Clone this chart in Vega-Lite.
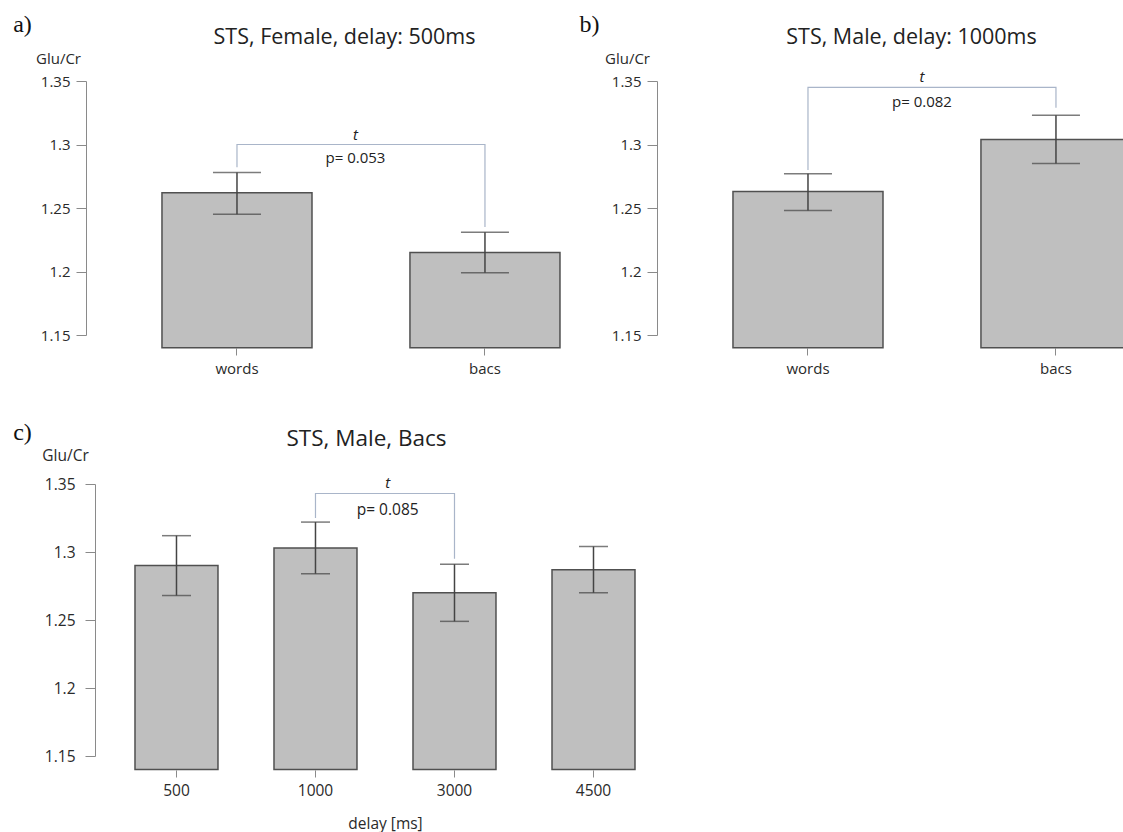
{
  "$schema": "https://vega.github.io/schema/vega-lite/v6.json",
  "background": "white",
  "padding": {"left": 12, "top": 12, "right": 0, "bottom": 6},
  "config": {"view": {"stroke": null}, "font": "Open Sans", "axis": {"grid": false}},
  "datasets": {
    "a_bars": [
      {"cond": "words", "mean": 1.262, "lo": 1.245, "hi": 1.278},
      {"cond": "bacs", "mean": 1.215, "lo": 1.199, "hi": 1.231}
    ],
    "a_bracket": [
      {"cond": "words", "y": 1.282, "ord": 1},
      {"cond": "words", "y": 1.300, "ord": 2},
      {"cond": "bacs", "y": 1.300, "ord": 3},
      {"cond": "bacs", "y": 1.235, "ord": 4}
    ],
    "a_text": [{"cond": "words", "test": "t", "t_y": 1.3075, "p_y": 1.2894, "p": "p= 0.053"}],
    "b_bars": [
      {"cond": "words", "mean": 1.263, "lo": 1.248, "hi": 1.277},
      {"cond": "bacs", "mean": 1.304, "lo": 1.285, "hi": 1.323}
    ],
    "b_bracket": [
      {"cond": "words", "y": 1.280, "ord": 1},
      {"cond": "words", "y": 1.345, "ord": 2},
      {"cond": "bacs", "y": 1.345, "ord": 3},
      {"cond": "bacs", "y": 1.329, "ord": 4}
    ],
    "b_text": [{"cond": "words", "test": "t", "t_y": 1.3531, "p_y": 1.3335, "p": "p= 0.082"}],
    "c_bars": [
      {"delay": "500", "mean": 1.290, "lo": 1.268, "hi": 1.312},
      {"delay": "1000", "mean": 1.303, "lo": 1.284, "hi": 1.322},
      {"delay": "3000", "mean": 1.270, "lo": 1.249, "hi": 1.291},
      {"delay": "4500", "mean": 1.287, "lo": 1.270, "hi": 1.304}
    ],
    "c_bracket": [
      {"delay": "1000", "y": 1.325, "ord": 1},
      {"delay": "1000", "y": 1.343, "ord": 2},
      {"delay": "3000", "y": 1.343, "ord": 3},
      {"delay": "3000", "y": 1.295, "ord": 4}
    ],
    "c_text": [{"delay": "1000", "test": "t", "t_y": 1.3507, "p_y": 1.3309, "p": "p= 0.085"}]
  },
  "vconcat": [
    {
      "hconcat": [
        {
          "width": 479, "height": 254,
          "encoding": {
            "x": {"field": "cond", "type": "nominal", "sort": ["words", "bacs"],
              "scale": {"paddingInner": 0.395, "paddingOuter": 0.1633, "align": 0.938},
              "axis": {"title": null, "labelAngle": 0, "domain": false, "offset": 13, "tickSize": 7, "tickColor": "#8a8a8a", "labelPadding": 6, "labelFont": "Open Sans", "labelFontSize": 15, "labelColor": "#2a2a2a"}}
          },
          "layer": [
            {"data": {"name": "a_bars"}, "mark": {"type": "bar", "fill": "#bfbfbf", "stroke": "#505050", "strokeWidth": 1.5},
              "encoding": {
                "y": {"field": "mean", "type": "quantitative", "scale": {"domain": [1.15, 1.35], "nice": false, "zero": false},
                  "axis": {"title": "Glu/Cr", "titleAngle": 0, "titleX": -28, "titleY": -23, "titleAlign": "center", "titleBaseline": "middle", "titleFont": "Open Sans", "titleFontSize": 15, "titleFontWeight": "normal", "titleColor": "#2a2a2a", "values": [1.15, 1.2, 1.25, 1.3, 1.35], "format": ".2~f", "labelFont": "Open Sans", "labelFontSize": 15, "labelColor": "#2a2a2a", "labelPadding": 6, "tickSize": 10, "tickColor": "#8a8a8a", "domainColor": "#8a8a8a", "grid": false}},
                "y2": {"datum": 1.14}
              }},
            {"data": {"name": "a_bars"}, "mark": {"type": "rule", "color": "#444444", "strokeWidth": 1.5},
              "encoding": {
                "y": {"field": "lo", "type": "quantitative", "axis": {"orient": "left", "title": "a)", "titleAngle": 0, "titleX": -64, "titleY": -57, "titleAlign": "center", "titleBaseline": "middle", "titleFont": "Liberation Serif", "titleFontSize": 24, "titleFontWeight": "normal", "titleColor": "#111111", "labels": false, "ticks": false, "domain": false, "grid": false}},
                "y2": {"field": "hi"}
              }},
            {"data": {"name": "a_bars"}, "mark": {"type": "tick", "color": "#444444", "size": 48, "thickness": 1.5},
              "encoding": {"y": {"field": "lo", "type": "quantitative", "axis": null}}},
            {"data": {"name": "a_bars"}, "mark": {"type": "tick", "color": "#444444", "size": 48, "thickness": 1.5},
              "encoding": {"y": {"field": "hi", "type": "quantitative", "axis": null}}},
            {"data": {"name": "a_bracket"}, "mark": {"type": "line", "color": "#a9b5c9", "strokeWidth": 1.2},
              "encoding": {"y": {"field": "y", "type": "quantitative",
                  "axis": {"orient": "left", "title": "STS, Female, delay: 500ms", "titleAngle": 0, "titleX": 258, "titleY": -44, "titleAlign": "center", "titleBaseline": "middle", "titleFont": "Open Sans", "titleFontSize": 21.5, "titleFontWeight": "normal", "titleColor": "#222222", "labels": false, "ticks": false, "domain": false, "grid": false}},
                "order": {"field": "ord", "type": "quantitative"}}},
            {"data": {"name": "a_text"}, "mark": {"type": "text", "fontStyle": "italic", "fontSize": 15, "color": "#222222", "baseline": "middle"},
              "encoding": {"x": {"field": "cond", "type": "nominal", "sort": ["words", "bacs"], "bandPosition": 1.29,
                  "axis": {"title": null, "labelAngle": 0, "domain": false, "offset": 13, "tickSize": 7, "tickColor": "#8a8a8a", "labelPadding": 6, "labelFont": "Open Sans", "labelFontSize": 15, "labelColor": "#2a2a2a"}},
                "y": {"field": "t_y", "type": "quantitative", "axis": null}, "text": {"field": "test"}}},
            {"data": {"name": "a_text"}, "mark": {"type": "text", "fontSize": 15, "color": "#222222", "baseline": "middle"},
              "encoding": {"x": {"field": "cond", "type": "nominal", "sort": ["words", "bacs"], "bandPosition": 1.29,
                  "axis": {"title": null, "labelAngle": 0, "domain": false, "offset": 13, "tickSize": 7, "tickColor": "#8a8a8a", "labelPadding": 6, "labelFont": "Open Sans", "labelFontSize": 15, "labelColor": "#2a2a2a"}},
                "y": {"field": "p_y", "type": "quantitative", "axis": null}, "text": {"field": "p"}}}
          ],
          "resolve": {"axis": {"y": "independent"}}
        },
        {
          "width": 479, "height": 254,
          "encoding": {
            "x": {"field": "cond", "type": "nominal", "sort": ["words", "bacs"],
              "scale": {"paddingInner": 0.395, "paddingOuter": 0.1633, "align": 0.938},
              "axis": {"title": null, "labelAngle": 0, "domain": false, "offset": 13, "tickSize": 7, "tickColor": "#8a8a8a", "labelPadding": 6, "labelFont": "Open Sans", "labelFontSize": 15, "labelColor": "#2a2a2a"}}
          },
          "layer": [
            {"data": {"name": "b_bars"}, "mark": {"type": "bar", "fill": "#bfbfbf", "stroke": "#505050", "strokeWidth": 1.5},
              "encoding": {
                "y": {"field": "mean", "type": "quantitative", "scale": {"domain": [1.15, 1.35], "nice": false, "zero": false},
                  "axis": {"title": "Glu/Cr", "titleAngle": 0, "titleX": -30, "titleY": -23, "titleAlign": "center", "titleBaseline": "middle", "titleFont": "Open Sans", "titleFontSize": 15, "titleFontWeight": "normal", "titleColor": "#2a2a2a", "values": [1.15, 1.2, 1.25, 1.3, 1.35], "format": ".2~f", "labelFont": "Open Sans", "labelFontSize": 15, "labelColor": "#2a2a2a", "labelPadding": 6, "tickSize": 10, "tickColor": "#8a8a8a", "domainColor": "#8a8a8a", "grid": false}},
                "y2": {"datum": 1.14}
              }},
            {"data": {"name": "b_bars"}, "mark": {"type": "rule", "color": "#444444", "strokeWidth": 1.5},
              "encoding": {
                "y": {"field": "lo", "type": "quantitative", "axis": {"orient": "left", "title": "b)", "titleAngle": 0, "titleX": -68, "titleY": -57, "titleAlign": "center", "titleBaseline": "middle", "titleFont": "Liberation Serif", "titleFontSize": 24, "titleFontWeight": "normal", "titleColor": "#111111", "labels": false, "ticks": false, "domain": false, "grid": false}},
                "y2": {"field": "hi"}
              }},
            {"data": {"name": "b_bars"}, "mark": {"type": "tick", "color": "#444444", "size": 48, "thickness": 1.5},
              "encoding": {"y": {"field": "lo", "type": "quantitative", "axis": null}}},
            {"data": {"name": "b_bars"}, "mark": {"type": "tick", "color": "#444444", "size": 48, "thickness": 1.5},
              "encoding": {"y": {"field": "hi", "type": "quantitative", "axis": null}}},
            {"data": {"name": "b_bracket"}, "mark": {"type": "line", "color": "#a9b5c9", "strokeWidth": 1.2},
              "encoding": {"y": {"field": "y", "type": "quantitative",
                  "axis": {"orient": "left", "title": "STS, Male, delay: 1000ms", "titleAngle": 0, "titleX": 254, "titleY": -44, "titleAlign": "center", "titleBaseline": "middle", "titleFont": "Open Sans", "titleFontSize": 21.5, "titleFontWeight": "normal", "titleColor": "#222222", "labels": false, "ticks": false, "domain": false, "grid": false}},
                "order": {"field": "ord", "type": "quantitative"}}},
            {"data": {"name": "b_text"}, "mark": {"type": "text", "fontStyle": "italic", "fontSize": 15, "color": "#222222", "baseline": "middle"},
              "encoding": {"x": {"field": "cond", "type": "nominal", "sort": ["words", "bacs"], "bandPosition": 1.26,
                  "axis": {"title": null, "labelAngle": 0, "domain": false, "offset": 13, "tickSize": 7, "tickColor": "#8a8a8a", "labelPadding": 6, "labelFont": "Open Sans", "labelFontSize": 15, "labelColor": "#2a2a2a"}},
                "y": {"field": "t_y", "type": "quantitative", "axis": null}, "text": {"field": "test"}}},
            {"data": {"name": "b_text"}, "mark": {"type": "text", "fontSize": 15, "color": "#222222", "baseline": "middle"},
              "encoding": {"x": {"field": "cond", "type": "nominal", "sort": ["words", "bacs"], "bandPosition": 1.26,
                  "axis": {"title": null, "labelAngle": 0, "domain": false, "offset": 13, "tickSize": 7, "tickColor": "#8a8a8a", "labelPadding": 6, "labelFont": "Open Sans", "labelFontSize": 15, "labelColor": "#2a2a2a"}},
                "y": {"field": "p_y", "type": "quantitative", "axis": null}, "text": {"field": "p"}}}
          ],
          "resolve": {"axis": {"y": "independent"}}
        }
      ],
      "spacing": 14
    },
    {
      "width": 569, "height": 272,
      "encoding": {
        "x": {"field": "delay", "type": "nominal", "sort": ["500", "1000", "3000", "4500"],
          "scale": {"paddingInner": 0.403, "paddingOuter": 0.2482, "align": 0.71},
          "axis": {"title": "delay [ms]", "titleX": 299, "titlePadding": 18, "titleFont": "Open Sans", "titleFontSize": 15.5, "titleFontWeight": "normal", "titleColor": "#2a2a2a", "labelAngle": 0, "domain": false, "offset": 14, "tickSize": 7, "tickColor": "#8a8a8a", "labelPadding": 6, "labelFont": "Open Sans", "labelFontSize": 15.5, "labelColor": "#2a2a2a"}}
      },
      "layer": [
        {"data": {"name": "c_bars"}, "mark": {"type": "bar", "fill": "#bfbfbf", "stroke": "#505050", "strokeWidth": 1.5},
          "encoding": {
            "y": {"field": "mean", "type": "quantitative", "scale": {"domain": [1.15, 1.35], "nice": false, "zero": false},
              "axis": {"offset": -9, "title": "Glu/Cr", "titleAngle": 0, "titleX": -30, "titleY": -29, "titleAlign": "center", "titleBaseline": "middle", "titleFont": "Open Sans", "titleFontSize": 15.5, "titleFontWeight": "normal", "titleColor": "#2a2a2a", "values": [1.15, 1.2, 1.25, 1.3, 1.35], "format": ".2~f", "labelFont": "Open Sans", "labelFontSize": 15.5, "labelColor": "#2a2a2a", "labelPadding": 10, "tickSize": 10, "tickColor": "#8a8a8a", "domainColor": "#8a8a8a", "grid": false}},
            "y2": {"datum": 1.14}
          }},
        {"data": {"name": "c_bars"}, "mark": {"type": "rule", "color": "#444444", "strokeWidth": 1.5},
          "encoding": {
            "y": {"field": "lo", "type": "quantitative", "axis": {"orient": "left", "offset": -9, "title": "c)", "titleAngle": 0, "titleX": -73, "titleY": -52, "titleAlign": "center", "titleBaseline": "middle", "titleFont": "Liberation Serif", "titleFontSize": 24, "titleFontWeight": "normal", "titleColor": "#111111", "labels": false, "ticks": false, "domain": false, "grid": false}},
            "y2": {"field": "hi"}
          }},
        {"data": {"name": "c_bars"}, "mark": {"type": "tick", "color": "#444444", "size": 29, "thickness": 1.5},
          "encoding": {"y": {"field": "lo", "type": "quantitative", "axis": null}}},
        {"data": {"name": "c_bars"}, "mark": {"type": "tick", "color": "#444444", "size": 29, "thickness": 1.5},
          "encoding": {"y": {"field": "hi", "type": "quantitative", "axis": null}}},
        {"data": {"name": "c_bracket"}, "mark": {"type": "line", "color": "#a9b5c9", "strokeWidth": 1.2},
          "encoding": {"y": {"field": "y", "type": "quantitative",
              "axis": {"orient": "left", "offset": -9, "title": "STS, Male, Bacs", "titleAngle": 0, "titleX": 271, "titleY": -46, "titleAlign": "center", "titleBaseline": "middle", "titleFont": "Open Sans", "titleFontSize": 22.5, "titleFontWeight": "normal", "titleColor": "#222222", "labels": false, "ticks": false, "domain": false, "grid": false}},
            "order": {"field": "ord", "type": "quantitative"}}},
        {"data": {"name": "c_text"}, "mark": {"type": "text", "fontStyle": "italic", "fontSize": 15, "color": "#222222", "baseline": "middle"},
          "encoding": {"x": {"field": "delay", "type": "nominal", "sort": ["500", "1000", "3000", "4500"], "bandPosition": 1.37,
              "axis": {"title": "delay [ms]", "titleX": 299, "titlePadding": 18, "titleFont": "Open Sans", "titleFontSize": 15.5, "titleFontWeight": "normal", "titleColor": "#2a2a2a", "labelAngle": 0, "domain": false, "offset": 14, "tickSize": 7, "tickColor": "#8a8a8a", "labelPadding": 6, "labelFont": "Open Sans", "labelFontSize": 15.5, "labelColor": "#2a2a2a"}},
            "y": {"field": "t_y", "type": "quantitative", "axis": null}, "text": {"field": "test"}}},
        {"data": {"name": "c_text"}, "mark": {"type": "text", "fontSize": 15.5, "color": "#222222", "baseline": "middle"},
          "encoding": {"x": {"field": "delay", "type": "nominal", "sort": ["500", "1000", "3000", "4500"], "bandPosition": 1.37,
              "axis": {"title": "delay [ms]", "titleX": 299, "titlePadding": 18, "titleFont": "Open Sans", "titleFontSize": 15.5, "titleFontWeight": "normal", "titleColor": "#2a2a2a", "labelAngle": 0, "domain": false, "offset": 14, "tickSize": 7, "tickColor": "#8a8a8a", "labelPadding": 6, "labelFont": "Open Sans", "labelFontSize": 15.5, "labelColor": "#2a2a2a"}},
            "y": {"field": "p_y", "type": "quantitative", "axis": null}, "text": {"field": "p"}}}
      ],
      "resolve": {"axis": {"y": "independent"}}
    }
  ],
  "spacing": 44
}
